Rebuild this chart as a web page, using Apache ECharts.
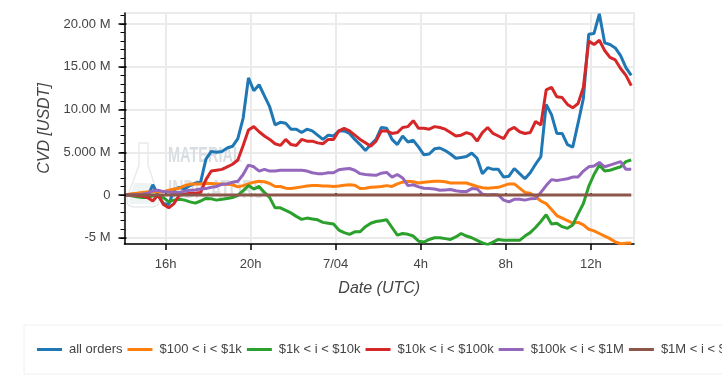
<!DOCTYPE html>
<html>
<head>
<meta charset="utf-8">
<style>
  html, body { margin: 0; padding: 0; background: #fff; overflow: hidden; }
  #main { width: 722px; height: 375px; }
</style>
<script src="https://cdn.jsdelivr.net/npm/echarts@6/dist/echarts.min.js"></script>
</head>
<body>
<div id="main"></div>
<script>
// hours since midnight of 7/03, one sample per 15 minutes
const hours = [14.15,14.4,14.65,14.9,15.15,15.4,15.65,15.9,16.15,16.4,16.65,16.9,17.15,17.4,17.65,17.9,
  18.15,18.4,18.65,18.9,19.15,19.4,19.65,19.9,20.15,20.4,20.65,20.9,21.15,21.4,21.65,21.9,
  22.15,22.4,22.65,22.9,23.15,23.4,23.65,23.9,24.15,24.4,24.65,24.9,25.15,25.4,25.65,25.9,
  26.15,26.4,26.65,26.9,27.15,27.4,27.65,27.9,28.15,28.4,28.65,28.9,29.15,29.4,29.65,29.9,
  30.15,30.4,30.65,30.9,31.15,31.4,31.65,31.9,32.15,32.4,32.65,32.9,33.15,33.4,33.65,33.9,
  34.15,34.4,34.65,34.9,35.15,35.4,35.65,35.9,36.15,36.4,36.65,36.9,37.15,37.4,37.65,37.9];

// CVD values in millions of USDT
const allOrders = [0,0,-0.1,-0.2,-0.2,1.2,0,-1,-1.1,0.6,0.9,0.7,1.1,1.4,1.5,4.2,
  5.1,5,5.1,5.5,5.7,6.6,9,13.7,12.2,12.9,11.6,10.3,8.2,8.5,8.4,7.7,
  7.7,7.3,7.7,7.5,7,6.5,7,6.9,7.5,7.5,7.2,6.5,5.9,5.2,5.9,6.5,
  7.9,7.8,6.5,5.9,6.9,6.2,6.4,5.6,4.7,4.8,5.4,5.5,5.2,4.8,4.3,4.4,
  4.5,4.9,4.3,2.5,3.2,3,3,2.1,2.2,3.1,2.5,1.9,2.6,3.6,4.5,10.6,
  9.4,7.2,7.2,5.9,5.6,8.4,11.3,18.8,18.9,21.2,17.8,17.6,17.2,16.3,14.9,14];
const orders100to1k = [0,0.15,0.2,0.3,0.35,0.4,0.35,0.4,0.55,0.7,0.8,1.1,1.25,1.3,1.3,1.35,
  1.35,1.3,1.3,1.25,1.2,0.95,1.1,1.3,1.5,1.6,1.55,1.35,1,1,0.8,0.75,
  0.85,0.95,1.05,1.1,1.1,1.05,1.05,1,1.05,1.15,1.2,1.15,0.75,0.8,0.9,0.95,
  1,1.1,1,1.3,1.5,1.6,1.55,1.4,1.5,1.55,1.6,1.6,1.55,1.4,1.4,1.4,
  1.4,1.2,1,0.85,0.8,0.85,0.9,1.1,1.3,1.3,0.8,0.3,0.2,-0.2,-0.7,-1,
  -1.7,-2.4,-2.7,-3,-3.3,-3.2,-3.5,-4,-4.2,-4.5,-4.8,-5.1,-5.5,-5.7,-5.65,-5.6];
const orders1kto10k = [0,-0.1,-0.2,-0.3,-0.3,-0.1,-0.1,-0.3,-0.8,-0.6,-0.5,-0.6,-0.8,-0.95,-0.7,-0.4,
  -0.45,-0.6,-0.5,-0.4,-0.3,-0.05,0.5,1.1,0.7,1,0.3,-0.3,-1.5,-1.5,-1.8,-2.1,
  -2.5,-2.85,-2.7,-2.8,-2.9,-3.2,-3.3,-3.4,-4.1,-4.4,-4.6,-4.3,-4.3,-3.7,-3.3,-3.1,
  -3,-2.9,-3.8,-4.7,-4.5,-4.6,-4.8,-5.4,-5.5,-5.2,-5,-5,-5.1,-5.2,-4.9,-4.5,
  -4.8,-5,-5.3,-5.6,-5.8,-5.5,-5.2,-5.3,-5.3,-5.3,-5.3,-4.8,-4.4,-3.8,-3.1,-2.3,
  -3.4,-3.3,-3.7,-3.9,-3.5,-2.2,-1,1,2.4,3.5,2.8,2.9,3.1,3.3,3.9,4.1];
const orders10kto100k = [0,0,-0.1,-0.1,-0.3,-0.7,0,-1.1,-1.5,-1,0,0.1,0.2,0.2,0.3,1.8,
  2.8,2.9,3,3.3,3.6,4.1,5.8,7.6,8,7.4,6.9,6.5,6,5.8,6.5,5.9,
  5.8,6.5,6.3,6.3,6.1,6,6.5,6.5,7.5,7.8,7.5,7,6.5,6.1,5.7,6.3,
  7.5,7.5,7.2,7.3,7.9,8,8.7,7.8,7.8,7.7,8,7.9,7.7,7.3,6.9,7,
  7.3,7.1,6.3,7.3,7.9,7.2,6.9,6.6,7.6,7.9,7.4,7.2,7.3,8.6,8.2,12.3,
  12.6,11.5,11.4,10.6,10.2,10.7,12.6,18,17.6,18.1,16.9,16.1,15.8,14.8,14,12.8];
const orders100kto1M = [0,0,0.05,0.1,0.2,0.5,0.55,0.4,0.35,0.3,0.3,0.45,0.55,0.6,0.7,0.75,
  0.9,1,1.25,1.3,1.5,1.6,2.4,3.5,3.3,2.8,3,2.8,2.8,2.9,2.9,2.9,
  2.9,2.9,2.8,2.6,2.5,2.5,2.6,2.6,2.95,3.05,3.1,2.9,2.5,2.4,2.35,2.3,
  2.55,2.65,2.1,2.4,2,1.1,1.2,0.95,0.8,0.75,0.7,0.55,0.6,0.65,0.5,0.4,
  0.4,0.75,0.7,0.1,0,0.05,0,-0.6,-0.8,-0.5,-0.5,-0.6,-0.45,-0.4,0.3,1.1,
  1.8,1.7,1.8,1.9,2.1,2.1,2.8,3.3,3.4,3.8,3.3,3.5,3.7,3.9,3,3];
const orders1Mto10M = [0,0,0,0,0,0,0,0,0,0,0,0,0,0,0,0,
  0,0,0,0,0,0,0,0,0,0,0,0,0,0,0,0,
  0,0,0,0,0,0,0,0,0,0,0,0,0,0,0,0,
  0,0,0,0,0,0,0,0,0,0,0,0,0,0,0,0,
  0,0,0,0,0,0,0,0,0,0,0,0,0,0,0,0,
  0,0,0,0,0,0,0,0,0,0,0,0,0,0,0,0];

const seriesNames = ['all orders', '$100 < i < $1k', '$1k < i < $10k', '$10k < i < $100k', '$100k < i < $1M', '$1M < i < $10M'];
const seriesValues = [allOrders, orders100to1k, orders1kto10k, orders10kto100k, orders100kto1M, orders1Mto10M];
const seriesColors = ['#1f77b4', '#ff7f0e', '#2ca02c', '#d62728', '#9467bd', '#8c564b'];

const xTickHours = [16, 20, 24, 28, 32, 36];
const xTickLabels = ['16h', '20h', '7/04', '4h', '8h', '12h'];
const yTicks = [-5, 0, 5, 10, 15, 20];
const yTickLabels = ['-5 M', '0', '5.000 M', '10.00 M', '15.00 M', '20.00 M'];
const yMinorTicks = [-5,-4,-3,-2,-1,0,1,2,3,4,5,6,7,8,9,10,11,12,13,14,15,16,17,18,19,20,21];

const xMin = 14.07, xMax = 38.03;
const yMin = -5.73, yMax = 21.29;

const chart = echarts.init(document.getElementById('main'));
const font = '"Liberation Sans", Arial, sans-serif';

chart.setOption({
  animation: false,
  backgroundColor: '#fff',
  textStyle: { fontFamily: font },
  grid: {
    left: 124.5, right: 88, top: 13, height: 231,
    show: true, borderColor: '#ebebeb', borderWidth: 2, backgroundColor: 'transparent'
  },
  legend: {
    left: 24, top: 325, width: 1200,
    padding: [18, 20, 18, 13],
    borderColor: '#f0f0f0', borderWidth: 1,
    icon: 'rect', itemWidth: 25, itemHeight: 3, itemGap: 5,
    data: seriesNames,
    textStyle: { color: '#444', fontSize: 13, fontFamily: font, padding: [0, 0, 0, 2] }
  },
  xAxis: [{
    type: 'value', min: xMin, max: xMax,
    name: 'Date (UTC)', nameLocation: 'middle', nameGap: 37,
    nameTextStyle: { fontSize: 16, fontStyle: 'italic', color: '#444', fontFamily: font },
    axisLine: { show: true, onZero: false, lineStyle: { color: '#000', width: 1.5 } },
    axisTick: { show: true, length: 6, customValues: xTickHours, lineStyle: { color: '#000', width: 1.5 } },
    axisLabel: {
      show: true, customValues: xTickHours, margin: 14, color: '#444', fontSize: 13, fontFamily: font,
      formatter: function (v) { return xTickLabels[xTickHours.indexOf(v)]; }
    },
    splitLine: { show: true, lineStyle: { color: '#ebebeb', width: 2 } }
  }, {
    // short inner part of the major ticks
    type: 'value', min: xMin, max: xMax, position: 'bottom',
    axisLine: { show: false },
    axisTick: { show: true, inside: true, length: 2, customValues: xTickHours, lineStyle: { color: '#000', width: 1.5 } },
    axisLabel: { show: false },
    splitLine: { show: false }
  }],
  yAxis: [{
    type: 'value', min: yMin, max: yMax,
    name: 'CVD [USDT]', nameLocation: 'middle', nameGap: 72, nameRotate: 90,
    nameTextStyle: { fontSize: 16, fontStyle: 'italic', color: '#444', fontFamily: font },
    axisLine: { show: true, onZero: false, lineStyle: { color: '#000', width: 1.5 } },
    axisTick: { show: true, length: 6, customValues: yTicks, lineStyle: { color: '#000', width: 1.5 } },
    axisLabel: {
      show: true, customValues: yTicks, margin: 14, color: '#444', fontSize: 13, fontFamily: font,
      formatter: function (v) { return yTickLabels[yTicks.indexOf(v)]; }
    },
    splitLine: { show: true, lineStyle: { color: '#ebebeb', width: 2 } }
  }, {
    // minor ticks
    type: 'value', min: yMin, max: yMax, position: 'left',
    axisLine: { show: false },
    axisTick: { show: true, length: 4, customValues: yMinorTicks, lineStyle: { color: '#000', width: 1 } },
    axisLabel: { show: false },
    splitLine: { show: false }
  }, {
    // short inner part of the major ticks
    type: 'value', min: yMin, max: yMax, position: 'left',
    axisLine: { show: false },
    axisTick: { show: true, inside: true, length: 2, customValues: yTicks, lineStyle: { color: '#000', width: 1.5 } },
    axisLabel: { show: false },
    splitLine: { show: false }
  }],
  // watermark behind the lines
  graphic: [
    {
      type: 'polygon', z: 1, silent: true,
      shape: { points: [[139, 143], [148, 143], [148, 165], [159, 198], [158, 205], [153, 207], [133, 207], [128, 205], [127, 198], [139, 165]] },
      style: { fill: 'rgba(255,255,255,0)', stroke: '#e9ebeb', lineWidth: 1.5 }
    },
    {
      type: 'polygon', z: 1, silent: true,
      shape: { points: [[134, 183], [152, 183], [157, 200], [156, 204], [130, 204], [129, 200]] },
      style: { fill: '#eef3f3' }
    },
    {
      type: 'text', z: 1, silent: true, x: 168, y: 145, scaleX: 0.66,
      style: { text: 'MATERIAL', fill: '#d9dee2', font: 'bold 22px "Liberation Sans Narrow", "Liberation Sans"' }
    },
    {
      type: 'text', z: 1, silent: true, x: 168, y: 178, scaleX: 0.6,
      style: { text: 'INDICATORS', fill: '#dde1e4', font: 'bold 26px "Liberation Sans Narrow", "Liberation Sans"' }
    }
  ],
  series: seriesNames.map(function (n, i) {
    return {
      name: n, type: 'line', xAxisIndex: 0, yAxisIndex: 0,
      data: hours.map(function (h, k) { return [h, seriesValues[i][k]]; }),
      showSymbol: false, symbol: 'none', smooth: false,
      lineStyle: { color: seriesColors[i], width: 3 },
      itemStyle: { color: seriesColors[i] }
    };
  })
});
</script>
</body>
</html>
